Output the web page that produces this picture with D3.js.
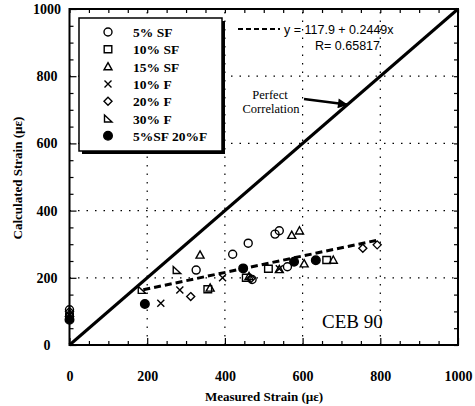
<!DOCTYPE html>
<html>
<head>
<meta charset="utf-8">
<script src="https://cdn.jsdelivr.net/npm/d3@7/dist/d3.min.js"></script>
<style>
  body { margin: 0; background: #fff; }
  svg { display: block; }
  .domain { display: none; }
  .tick line { stroke: #000; stroke-width: 1.2; }
</style>
</head>
<body>
<svg id="chart"></svg>
<script>
// measured vs calculated strain
const series = ["5% SF", "10% SF", "15% SF", "10% F", "20% F", "30% F", "5%SF 20%F"];

const sf5 = [[0, 105], [326, 223], [420, 270], [460, 303], [529, 330], [540, 340], [470, 195], [561, 233]];
const sf10 = [[0, 85], [356, 166], [455, 200], [512, 227], [662, 253]];
const sf15 = [[0, 95], [336, 268], [572, 327], [592, 340], [362, 170], [462, 204], [540, 225], [604, 242], [679, 253]];
const f10 = [[235, 124], [284, 164], [394, 200], [540, 227]];
const f20 = [[0, 100], [312, 144], [755, 288], [792, 298], [467, 198]];
const f30 = [[186, 164], [276, 223]];
const sf5f20 = [[0, 75], [194, 122], [447, 228], [578, 248], [634, 252]];

const fitA = 117.9, fitB = 0.2449, fitR = 0.65817;
const fitRange = [190, 790];

const ticksMajor = [0, 200, 400, 600, 800, 1000];
const ticksMinor = d3.range(0, 1001, 50);

const serif = "Liberation Serif, Times New Roman, serif";
const W = 475, H = 406;
const svg = d3.select("#chart").attr("width", W).attr("height", H);

const x = d3.scaleLinear().domain([0, 1000]).range([69.5, 458]);
const y = d3.scaleLinear().domain([0, 1000]).range([345, 9]);

// dotted grid
const grid = svg.append("g").attr("stroke", "#000").attr("stroke-width", 1.2).attr("stroke-dasharray", "1.5,7");
grid.selectAll(".gx").data(ticksMajor.slice(1, -1)).join("line")
  .attr("x1", d => x(d)).attr("x2", d => x(d)).attr("y1", y(0)).attr("y2", y(1000));
grid.selectAll(".gy").data(ticksMajor.slice(1, -1)).join("line")
  .attr("y1", d => y(d)).attr("y2", d => y(d)).attr("x1", x(0)).attr("x2", x(1000));

// ticks on all four sides, pointing in
const minorVals = ticksMinor.filter(d => !ticksMajor.includes(d));
svg.append("g").attr("transform", `translate(0,${y(0)})`)
  .call(d3.axisBottom(x).tickValues(minorVals).tickSize(-4).tickFormat(""));
const xAx = svg.append("g").attr("transform", `translate(0,${y(0)})`)
  .call(d3.axisBottom(x).tickValues(ticksMajor).tickSize(-7).tickPadding(26).tickFormat(d3.format("d")));
svg.append("g").attr("transform", `translate(0,${y(1000)})`)
  .call(d3.axisTop(x).tickValues(ticksMinor).tickSize(-4).tickFormat(""));
svg.append("g").attr("transform", `translate(${x(0)},0)`)
  .call(d3.axisLeft(y).tickValues(minorVals).tickSize(-4).tickFormat(""));
const yAx = svg.append("g").attr("transform", `translate(${x(0)},0)`)
  .call(d3.axisLeft(y).tickValues(ticksMajor).tickSize(-7).tickFormat(d3.format("d")));
yAx.selectAll(".tick text").attr("x", 47 - x(0)).attr("text-anchor", "middle");
svg.append("g").attr("transform", `translate(${x(1000)},0)`)
  .call(d3.axisRight(y).tickValues(ticksMinor).tickSize(-4).tickFormat(""));

[xAx, yAx].forEach(a => a.selectAll(".tick text")
  .attr("font-family", serif).attr("font-weight", "bold").attr("font-size", 14).attr("fill", "#000"));

// frame
svg.append("rect")
  .attr("x", x(0)).attr("y", y(1000))
  .attr("width", x(1000) - x(0)).attr("height", y(0) - y(1000))
  .attr("fill", "none").attr("stroke", "#000").attr("stroke-width", 2);

// perfect correlation line
svg.append("line")
  .attr("x1", x(0)).attr("y1", y(0)).attr("x2", x(1000)).attr("y2", y(1000))
  .attr("stroke", "#000").attr("stroke-width", 3);

// regression line
svg.append("line")
  .attr("x1", x(fitRange[0])).attr("y1", y(fitA + fitB * fitRange[0]))
  .attr("x2", x(fitRange[1])).attr("y2", y(fitA + fitB * fitRange[1]))
  .attr("stroke", "#000").attr("stroke-width", 3).attr("stroke-dasharray", "7,4");

// marker shapes
const shapes = {
  "5% SF": "M4,0A4,4 0 1,1 -4,0A4,4 0 1,1 4,0Z",
  "10% SF": "M-3.8,-3.5H3.8V3.5H-3.8Z",
  "15% SF": "M0,-4L4,3.2H-4Z",
  "10% F": "M-3.5,-3.5L3.5,3.5M-3.5,3.5L3.5,-3.5",
  "20% F": "M0,-4L4,0L0,4L-4,0Z",
  "30% F": "M-3.5,-3.5L4,3.5H-3.5Z",
  "5%SF 20%F": "M4.3,0A4.3,4.3 0 1,1 -4.3,0A4.3,4.3 0 1,1 4.3,0Z"
};
const dataBySeries = {
  "5% SF": sf5, "10% SF": sf10, "15% SF": sf15, "10% F": f10,
  "20% F": f20, "30% F": f30, "5%SF 20%F": sf5f20
};

function marker(g, s) {
  g.append("path").attr("d", shapes[s])
    .attr("fill", s === "5%SF 20%F" ? "#000" : "#fff")
    .attr("fill-opacity", s === "5%SF 20%F" ? 1 : 0)
    .attr("stroke", "#000").attr("stroke-width", 1.4);
}

series.forEach(s => {
  dataBySeries[s].forEach(d => {
    const g = svg.append("g").attr("transform", `translate(${x(d[0])},${y(d[1])})`);
    marker(g, s);
  });
});

// legend
const lg = svg.append("g");
lg.append("rect").attr("x", 82).attr("y", 21).attr("width", 143).attr("height", 133).attr("fill", "#000");
lg.append("rect").attr("x", 79).attr("y", 18).attr("width", 143).attr("height", 133)
  .attr("fill", "#fff").attr("stroke", "#000").attr("stroke-width", 1.5);
series.forEach((s, i) => {
  const yy = 32 + i * 17.3;
  const g = lg.append("g").attr("transform", `translate(108,${yy})`);
  marker(g, s);
  lg.append("text").attr("x", 133).attr("y", yy + 5)
    .attr("font-family", serif)
    .attr("font-weight", "bold").attr("font-size", 13.5).text(s);
});

// fit annotation
svg.append("line").attr("x1", 238).attr("x2", 280).attr("y1", 29).attr("y2", 29)
  .attr("stroke", "#000").attr("stroke-width", 2).attr("stroke-dasharray", "5,3");
svg.append("text").attr("x", 284).attr("y", 33.5)
  .attr("font-family", "Liberation Sans, Arial, sans-serif").attr("font-size", 12.5)
  .text(`y = ${fitA} + ${fitB}x`);
svg.append("text").attr("x", 315).attr("y", 49.5)
  .attr("font-family", "Liberation Sans, Arial, sans-serif").attr("font-size", 12.5)
  .text(`R= ${fitR}`);

// perfect correlation label and arrow
svg.append("defs").append("marker").attr("id", "arr")
  .attr("viewBox", "0 0 10 10").attr("refX", 9).attr("refY", 5)
  .attr("markerWidth", 5).attr("markerHeight", 4).attr("orient", "auto")
  .attr("markerUnits", "strokeWidth")
  .append("path").attr("d", "M0,0L10,5L0,10Z").attr("fill", "#000");
const tp = svg.append("text").attr("font-family", serif)
  .attr("font-size", 12.5).attr("text-anchor", "middle");
tp.append("tspan").attr("x", 270).attr("y", 99).text("Perfect");
tp.append("tspan").attr("x", 271).attr("y", 113).text("Correlation");
svg.append("line").attr("x1", 304).attr("y1", 99).attr("x2", 347).attr("y2", 104.5)
  .attr("stroke", "#000").attr("stroke-width", 2.5).attr("marker-end", "url(#arr)");

svg.append("text").attr("x", 322).attr("y", 328)
  .attr("font-family", serif).attr("font-size", 19)
  .text("CEB 90");

// axis titles
svg.append("text").attr("x", 264).attr("y", 401).attr("text-anchor", "middle")
  .attr("font-family", serif).attr("font-weight", "bold").attr("font-size", 13)
  .text("Measured Strain (µε)");
svg.append("text").attr("transform", "translate(22,178) rotate(-90)").attr("text-anchor", "middle")
  .attr("font-family", serif).attr("font-weight", "bold").attr("font-size", 13)
  .text("Calculated Strain (µε)");
</script>
</body>
</html>
